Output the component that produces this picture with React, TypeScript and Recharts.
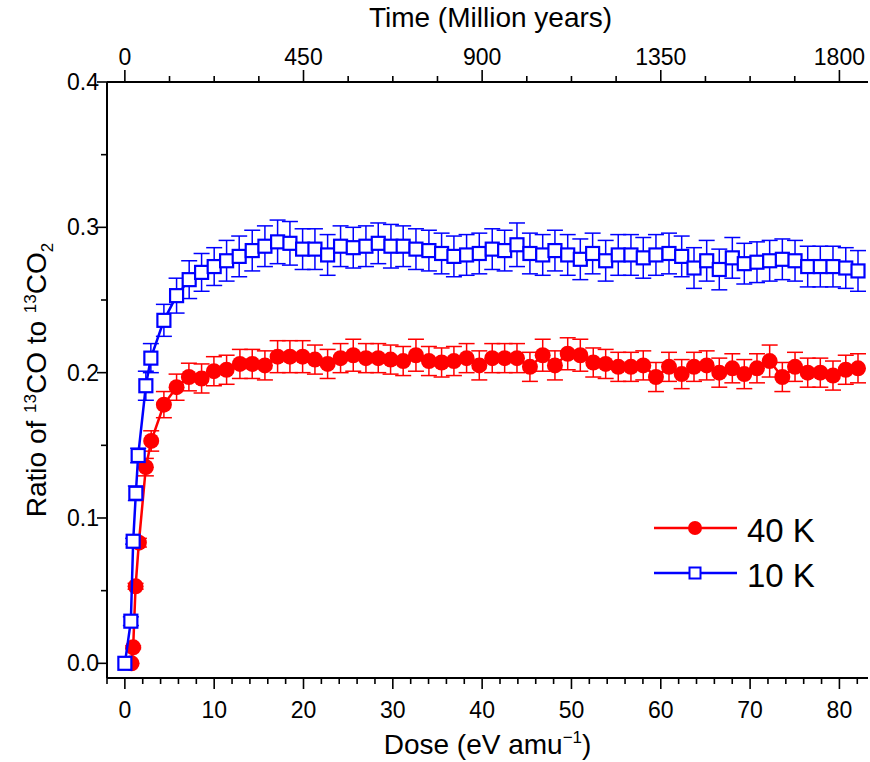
import { ComposedChart, Scatter, XAxis, YAxis, ErrorBar } from 'recharts';

// 40 K series (filled red circles)
const dose40 = [0.75, 0.93, 1.2, 1.57, 2.35, 2.95, 4.37, 5.79, 7.17, 8.59, 9.97, 11.39, 12.88, 14.26, 15.68, 17.1, 18.48, 19.9, 21.28, 22.7, 24.15, 25.57, 26.99, 28.37, 29.75, 31.16, 32.59, 34.04, 35.46, 36.84, 38.26, 39.68, 41.13, 42.52, 43.9, 45.35, 46.78, 48.15, 49.58, 50.99, 52.44, 53.83, 55.24, 56.66, 58.04, 59.46, 60.92, 62.34, 63.72, 65.14, 66.55, 68.01, 69.35, 70.77, 72.19, 73.61, 75.03, 76.45, 77.86, 79.28, 80.71, 82.08];
const ratio40 = [0.0, 0.011, 0.053, 0.083, 0.135, 0.153, 0.178, 0.19, 0.197, 0.196, 0.201, 0.202, 0.206, 0.206, 0.205, 0.211, 0.211, 0.211, 0.209, 0.206, 0.21, 0.212, 0.21, 0.21, 0.209, 0.208, 0.212, 0.208, 0.207, 0.208, 0.21, 0.205, 0.21, 0.21, 0.21, 0.204, 0.212, 0.205, 0.213, 0.212, 0.207, 0.206, 0.204, 0.204, 0.205, 0.197, 0.204, 0.199, 0.204, 0.205, 0.2, 0.203, 0.199, 0.203, 0.208, 0.197, 0.204, 0.2, 0.2, 0.198, 0.202, 0.203];
const err40 = [0.0, 0.001, 0.002, 0.003, 0.006, 0.007, 0.009, 0.009, 0.0095, 0.01, 0.01, 0.01, 0.01, 0.01, 0.01, 0.011, 0.011, 0.011, 0.01, 0.01, 0.01, 0.011, 0.01, 0.01, 0.01, 0.01, 0.011, 0.01, 0.01, 0.01, 0.01, 0.01, 0.01, 0.01, 0.01, 0.01, 0.011, 0.01, 0.011, 0.011, 0.01, 0.01, 0.01, 0.01, 0.01, 0.01, 0.01, 0.01, 0.01, 0.01, 0.01, 0.01, 0.01, 0.01, 0.011, 0.01, 0.01, 0.01, 0.01, 0.01, 0.01, 0.01];

// 10 K series (open blue squares)
const dose10 = [0, 0.67, 0.93, 1.23, 1.49, 2.35, 2.91, 4.37, 5.79, 7.2, 8.59, 10.0, 11.39, 12.8, 14.26, 15.68, 17.1, 18.48, 19.9, 21.28, 22.7, 24.15, 25.57, 26.99, 28.37, 29.79, 31.16, 32.59, 34.04, 35.46, 36.84, 38.26, 39.68, 41.13, 42.52, 43.9, 45.35, 46.78, 48.15, 49.58, 50.99, 52.37, 53.83, 55.24, 56.66, 58.04, 59.46, 60.92, 62.34, 63.72, 65.14, 66.55, 68.01, 69.35, 70.77, 72.19, 73.61, 75.03, 76.45, 77.86, 79.28, 80.71, 82.08];
const ratio10 = [0.0, 0.029, 0.084, 0.117, 0.143, 0.191, 0.21, 0.236, 0.253, 0.264, 0.269, 0.273, 0.277, 0.28, 0.284, 0.287, 0.29, 0.289, 0.285, 0.285, 0.281, 0.287, 0.286, 0.287, 0.289, 0.287, 0.287, 0.285, 0.284, 0.282, 0.28, 0.281, 0.282, 0.285, 0.284, 0.288, 0.282, 0.281, 0.284, 0.281, 0.278, 0.282, 0.277, 0.281, 0.281, 0.279, 0.281, 0.282, 0.28, 0.272, 0.277, 0.271, 0.279, 0.275, 0.276, 0.277, 0.278, 0.277, 0.273, 0.273, 0.273, 0.272, 0.27];
const err10 = [0.0, 0.003, 0.002, 0.005, 0.005, 0.01, 0.01, 0.011, 0.012, 0.013, 0.013, 0.013, 0.014, 0.014, 0.014, 0.014, 0.015, 0.015, 0.014, 0.014, 0.014, 0.014, 0.014, 0.014, 0.014, 0.015, 0.014, 0.014, 0.014, 0.014, 0.014, 0.014, 0.014, 0.014, 0.014, 0.015, 0.014, 0.014, 0.014, 0.014, 0.014, 0.014, 0.014, 0.014, 0.014, 0.014, 0.014, 0.014, 0.014, 0.014, 0.014, 0.014, 0.014, 0.014, 0.014, 0.014, 0.014, 0.014, 0.014, 0.014, 0.014, 0.014, 0.014];

const doseTicks = [-2, 0, 2, 4, 6, 8, 10, 12, 14, 16, 18, 20, 22, 24, 26, 28, 30, 32, 34, 36, 38, 40, 42, 44, 46, 48, 50, 52, 54, 56, 58, 60, 62, 64, 66, 68, 70, 72, 74, 76, 78, 80, 82];
// top axis: time in million years, 22.5 Myr per eV/amu; ticks placed at the matching dose
const MYR_PER_DOSE = 22.5;
const timeTickDoses = [0, 5, 10, 15, 20, 25, 30, 35, 40, 45, 50, 55, 60, 65, 70, 75, 80];
const ratioTicks = [0, 0.05, 0.1, 0.15, 0.2, 0.25, 0.3, 0.35, 0.4];

const series40 = dose40.map((d, i) => ({ dose: d, ratio: ratio40[i], err: err40[i] }));
const series10 = dose10.map((d, i) => ({ dose: d, ratio: ratio10[i], err: err10[i] }));

const FONT = '"Liberation Sans", Arial, sans-serif';
const RED = '#ff0000';
const BLUE = '#0000ff';
const TICK_FS = 23;
const TITLE_FS = 28;

const DoseTick = ({ x, y, payload }: any) => {
  const major = payload.value % 10 === 0;
  return (
    <g>
      <line x1={x} x2={x} y1={y} y2={y + (major ? 11 : 6)} stroke="#000" strokeWidth={1.6} />
      {major && (
        <text x={x} y={y + 40} textAnchor="middle" fontSize={TICK_FS} fontFamily={FONT} fill="#000">
          {payload.value}
        </text>
      )}
    </g>
  );
};

const TimeTick = ({ x, y, payload }: any) => {
  const major = payload.value % 20 === 0;
  return (
    <g>
      <line x1={x} x2={x} y1={y} y2={y - (major ? 12 : 6)} stroke="#000" strokeWidth={1.6} />
      {major && (
        <text x={x} y={y - 17} textAnchor="middle" fontSize={TICK_FS} fontFamily={FONT} fill="#000">
          {payload.value * MYR_PER_DOSE}
        </text>
      )}
    </g>
  );
};

const RatioTick = ({ x, y, payload }: any) => {
  const major = Math.round(payload.value * 100) % 10 === 0;
  return (
    <g>
      <line x1={x} x2={x - (major ? 10 : 6)} y1={y} y2={y} stroke="#000" strokeWidth={1.6} />
      {major && (
        <text x={x - 8} y={y + 8} textAnchor="end" fontSize={TICK_FS} fontFamily={FONT} fill="#000">
          {payload.value.toFixed(1)}
        </text>
      )}
    </g>
  );
};

const DoseTitle = ({ viewBox }: any) => (
  <text x={viewBox.x + viewBox.width / 2} y={viewBox.y + 76} textAnchor="middle" fontSize={TITLE_FS} fontFamily={FONT} fill="#000">
    Dose (eV amu
    <tspan dy={-11} fontSize={17}>−1</tspan>
    <tspan dy={11}>)</tspan>
  </text>
);

const TimeTitle = ({ viewBox }: any) => (
  <text x={viewBox.x + viewBox.width / 2 + 3} y={27} textAnchor="middle" fontSize={TITLE_FS} fontFamily={FONT} fill="#000">
    Time (Million years)
  </text>
);

const RatioTitle = ({ viewBox }: any) => {
  const cx = 46;
  const cy = viewBox.y + viewBox.height / 2;
  return (
    <text x={cx} y={cy} transform={`rotate(-90, ${cx}, ${cy})`} textAnchor="middle" fontSize={TITLE_FS} fontFamily={FONT} fill="#000">
      Ratio of <tspan dy={-10} fontSize={17}>13</tspan>
      <tspan dy={10}>CO to </tspan>
      <tspan dy={-10} fontSize={17}>13</tspan>
      <tspan dy={10}>CO</tspan>
      <tspan dy={7} fontSize={17}>2</tspan>
    </text>
  );
};

const Circle = ({ cx, cy }: any) => <circle cx={cx} cy={cy} r={8} fill={RED} />;
const Square = ({ cx, cy }: any) => (
  <rect x={cx - 6.5} y={cy - 6.5} width={13} height={13} fill="#fff" stroke={BLUE} strokeWidth={2.2} />
);
const Nothing = () => null;

const LegendBox = () => (
  <svg width={200} height={100} style={{ position: 'absolute', left: 650, top: 505 }}>
    <line x1={4} x2={87} y1={23} y2={23} stroke={RED} strokeWidth={2.5} />
    <circle cx={45} cy={23} r={7} fill={RED} />
    <text x={97} y={37} fontSize={33} fontFamily={FONT} fill="#000">40 K</text>
    <line x1={4} x2={87} y1={68} y2={68} stroke={BLUE} strokeWidth={2.5} />
    <rect x={39.5} y={62.5} width={11} height={11} fill="#fff" stroke={BLUE} strokeWidth={2} />
    <text x={97} y={82} fontSize={33} fontFamily={FONT} fill="#000">10 K</text>
  </svg>
);

export default function App() {
  return (
    <div style={{ position: 'absolute', left: 0, top: 0, width: 870, height: 762, background: '#fff' }}>
      <ComposedChart width={870} height={762} margin={{ top: 0, right: 2, bottom: 0, left: 0 }}>
        <XAxis
          xAxisId="bottom"
          dataKey="dose"
          type="number"
          domain={[-2, 83.2]}
          allowDataOverflow
          ticks={doseTicks}
          interval={0}
          height={84}
          tickSize={0}
          tickMargin={0}
          tickLine={false}
          axisLine={{ stroke: '#000', strokeWidth: 2 }}
          tick={<DoseTick />}
          label={<DoseTitle />}
        />
        <XAxis
          xAxisId="top"
          orientation="top"
          dataKey="dose"
          type="number"
          domain={[-2, 83.2]}
          allowDataOverflow
          ticks={timeTickDoses}
          interval={0}
          height={82}
          tickSize={0}
          tickMargin={0}
          tickLine={false}
          axisLine={{ stroke: '#000', strokeWidth: 2 }}
          tick={<TimeTick />}
          label={<TimeTitle />}
        />
        <YAxis
          yAxisId="left"
          dataKey="ratio"
          type="number"
          domain={[-0.0101, 0.4]}
          allowDataOverflow
          ticks={ratioTicks}
          interval={0}
          width={107}
          tickSize={0}
          tickMargin={0}
          tickLine={false}
          axisLine={{ stroke: '#000', strokeWidth: 2 }}
          tick={<RatioTick />}
          label={<RatioTitle />}
        />
        {/* invisible copy so the top (time) axis has a series bound to it */}
        <Scatter data={series10} xAxisId="top" yAxisId="left" dataKey="ratio" shape={<Nothing />} isAnimationActive={false} />
        <Scatter
          data={series40}
          xAxisId="bottom"
          yAxisId="left"
          dataKey="ratio"
          line={{ stroke: RED, strokeWidth: 2.5 }}
          lineType="joint"
          shape={<Circle />}
          isAnimationActive={false}
        >
          <ErrorBar dataKey="err" direction="y" width={8} stroke={RED} strokeWidth={1.5} />
        </Scatter>
        <Scatter
          data={series10}
          xAxisId="bottom"
          yAxisId="left"
          dataKey="ratio"
          line={{ stroke: BLUE, strokeWidth: 2.5 }}
          lineType="joint"
          shape={<Square />}
          isAnimationActive={false}
        >
          <ErrorBar dataKey="err" direction="y" width={8} stroke={BLUE} strokeWidth={1.5} />
        </Scatter>
      </ComposedChart>
      <LegendBox />
    </div>
  );
}
